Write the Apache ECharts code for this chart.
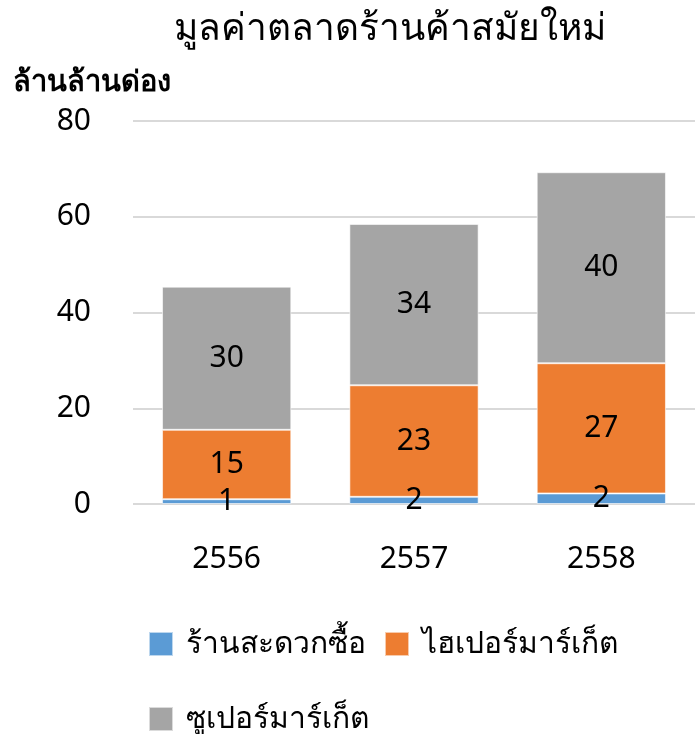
<!DOCTYPE html>
<html>
<head>
<meta charset="utf-8">
<script src="https://cdn.jsdelivr.net/npm/echarts@6/dist/echarts.min.js"></script>
<style>
  html, body { margin: 0; padding: 0; background: #fff; }
  #chart { width: 695px; height: 734px; }
</style>
</head>
<body>
<div id="chart"></div>
<script>
const TITLE = 'มูลค่าตลาดร้านค้าสมัยใหม่'
const UNIT = 'ล้านล้านด่อง'
const YEARS = ['2556', '2557', '2558']
const CONVENIENCE = [1.0, 1.5, 2.2]
const HYPERMARKET = [14.5, 23.3, 27.2]
const SUPERMARKET = [29.9, 33.7, 39.9]
const NAMES = ['ร้านสะดวกซื้อ', 'ไฮเปอร์มาร์เก็ต', 'ซูเปอร์มาร์เก็ต']
const COLORS = ['#5B9BD5', '#ED7D31', '#A5A5A5']

const FONT = 'Noto Sans, DejaVu Sans, sans-serif'

const chart = echarts.init(document.getElementById('chart'))

function barSeries(name, data, color) {
    return {
        name: name,
        type: 'bar',
        stack: 'total',
        data: data,
        barWidth: '69%',
        itemStyle: { color: color, borderColor: 'rgba(255,255,255,0.6)', borderWidth: 1 },
        label: {
            show: true,
            position: 'inside',
            color: '#000',
            fontSize: 30,
            fontFamily: FONT,
            formatter: p => Math.round(p.value)
        }
    }
}

const legendText = { fontSize: 30, color: '#000', fontFamily: FONT, padding: [0, 0, 0, 8] }

chart.setOption({
    animation: false,
    textStyle: { fontFamily: FONT },
    title: {
        text: TITLE,
        left: 385,
        textAlign: 'center',
        top: 6,
        textStyle: { fontSize: 37, fontWeight: 'normal', color: '#000', fontFamily: FONT }
    },
    legend: [
        {
            data: NAMES.slice(0, 2),
            left: 143,
            top: 624,
            itemWidth: 24,
            itemHeight: 24,
            itemGap: 18,
            icon: 'rect',
            textStyle: legendText
        },
        {
            data: NAMES.slice(2),
            left: 143,
            top: 699,
            itemWidth: 24,
            itemHeight: 24,
            icon: 'rect',
            textStyle: legendText
        }
    ],
    grid: { left: 133, right: -4, top: 121, bottom: 230 },
    xAxis: {
        type: 'category',
        data: YEARS,
        axisLine: { show: false },
        axisTick: { show: false },
        axisLabel: { color: '#000', fontSize: 30, margin: 40, fontFamily: FONT }
    },
    yAxis: {
        type: 'value',
        min: 0,
        max: 80,
        interval: 20,
        name: UNIT,
        nameLocation: 'end',
        nameGap: 24,
        nameTextStyle: { fontSize: 29, fontWeight: 'bold', color: '#000', align: 'left', padding: [0, 0, 0, -120], fontFamily: FONT },
        axisLine: { show: false },
        axisTick: { show: false },
        splitLine: { lineStyle: { color: '#D9D9D9', width: 2 } },
        axisLabel: { color: '#000', fontSize: 30, margin: 42, fontFamily: FONT }
    },
    series: [
        barSeries(NAMES[0], CONVENIENCE, COLORS[0]),
        barSeries(NAMES[1], HYPERMARKET, COLORS[1]),
        barSeries(NAMES[2], SUPERMARKET, COLORS[2])
    ]
})
</script>
</body>
</html>
